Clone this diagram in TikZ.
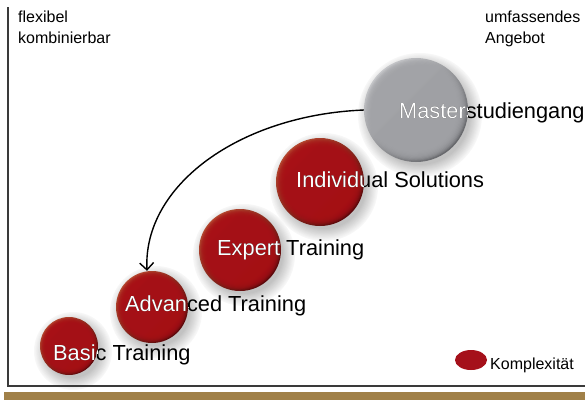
\documentclass[tikz,border=0pt]{standalone}
\usepackage{fontspec}
\setmainfont{Liberation Sans}
\usetikzlibrary{arrows.meta,shapes.geometric}

\definecolor{redlight}{HTML}{B5472F}
\definecolor{redmid}{HTML}{A71016}
\definecolor{reddark}{HTML}{5A070A}
\definecolor{graylight}{HTML}{C4C5C8}
\definecolor{graymid}{HTML}{A2A3A7}
\definecolor{graydark}{HTML}{66676B}
\definecolor{axisgray}{HTML}{3A3A3A}
\definecolor{barbrown}{HTML}{A08048}
\definecolor{legendred}{HTML}{A5101A}

% a shaded ball with a soft drop shadow and an invisible named node on top
% #1 name, #2 x, #3 y, #4 radius, #5 colour prefix (red/gray)
\newcommand\ball[5]{%
  \foreach \k in {0,...,11}{%
    \pgfmathsetmacro\shadetone{3+\k*1.9}%
    \fill[black!\shadetone] (#2+4,#3+5) circle[radius=#4+10-\k*1.1];}
  \shade[shading=axis, top color=#5light, bottom color=#5dark, shading angle=45]
    (#2,#3) circle[radius=#4];
  \foreach \k in {0,...,9}{%
    \fill[#5mid, opacity=0.3] (#2,#3) circle[radius=#4*(0.97-0.022*\k)];}
  \node[circle, inner sep=0pt, minimum size=2*#4 pt] (#1) at (#2,#3) {};}

\tikzset{
  lbl/.style={anchor=base west, inner sep=0pt, font=\fontsize{21.8}{26}\selectfont},
  side/.style={anchor=base west, inner sep=0pt, font=\fontsize{16}{21}\selectfont},
  axis/.style={draw=axisgray, line width=1.6pt},
  flow/.style={draw=black, line width=1.4pt, -{Straight Barb[length=7pt,width=14pt]}}
}

\begin{document}
\begin{tikzpicture}[x=1pt, y=-1pt]
  \useasboundingbox (0,0) rectangle (585,400);

  % balls
  \ball{basic}{69}{346}{29}{red}
  \ball{advanced}{152}{307}{36}{red}
  \ball{expert}{240}{250}{41}{red}
  \ball{indiv}{320}{182}{44}{red}
  \ball{master}{416}{110}{52}{gray}

  % axes and footer bar
  \draw[axis] (8,7) -- (8,386) -- (585,386);
  \fill[barbrown] (4,392) rectangle (585,400);

  % corner captions
  \node[side] (flex1) at (18,22) {flexibel};
  \node[side] (flex2) at (18,43) {kombinierbar};
  \node[side] (wide1) at (485,22) {umfassendes};
  \node[side] (wide2) at (485,43) {Angebot};

  % labels: black outside the ball, white where they cross it
  \node[lbl] (basicT) at (53,360) {Basic Training};
  \begin{scope}\clip (basic.center) circle[radius=29pt];
    \node[lbl, white] (basicW) at (53,360) {Basic Training};
  \end{scope}

  \node[lbl] (advT) at (125,311) {Advanced Training};
  \begin{scope}\clip (advanced.center) circle[radius=36pt];
    \node[lbl, white] (advW) at (125,311) {Advanced Training};
  \end{scope}

  \node[lbl] (expT) at (217,255) {Expert Training};
  \begin{scope}\clip (expert.center) circle[radius=41pt];
    \node[lbl, white] (expW) at (217,255) {Expert Training};
  \end{scope}

  \node[lbl] (indT) at (296,187) {Individual Solutions};
  \begin{scope}\clip (indiv.center) circle[radius=44pt];
    \node[lbl, white] (indW) at (296,187) {Individual Solutions};
  \end{scope}

  \node[lbl] (masT) at (399,118) {Masterstudiengang};
  \begin{scope}\clip (master.center) circle[radius=52pt];
    \node[lbl, white] (masW) at (399,118) {Masterstudiengang};
  \end{scope}

  % curved arrow from the master programme back to advanced training
  \draw[flow] (master.west) .. controls (240,115) and (143,185) .. ([xshift=-5pt]advanced.north);

  % legend
  \node[ellipse, fill=legendred, inner sep=0pt, minimum width=32pt, minimum height=20pt] (legdot) at (471,360) {};
  \node[side, anchor=base west] (legtxt) at (490,369) {Komplexität};
\end{tikzpicture}
\end{document}
